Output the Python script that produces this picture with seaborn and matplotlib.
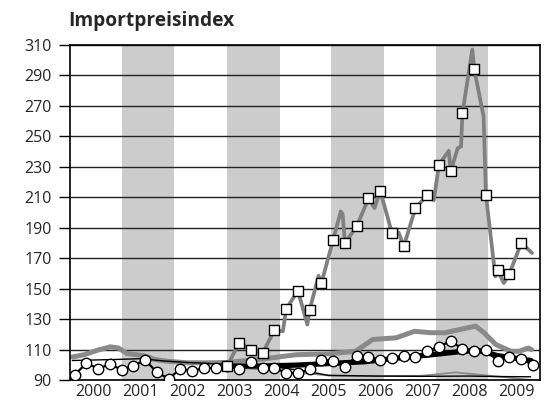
#!/usr/bin/env python3
# -*- coding: utf-8 -*-
"""
Importpreisindex, 2000-2009, Quartalswerte und Monatsverlauf.
"""
#%%
import matplotlib
matplotlib.use("Agg")
import matplotlib.pyplot as plt
import numpy as np
import pandas as pd
import seaborn as sns
#%%
sns.set_style("white")
plt.rcParams["font.family"] = ["Open Sans", "DejaVu Sans"]

#%% Daten
years = [2000, 2001, 2002, 2003, 2004, 2005, 2006, 2007, 2008, 2009]
y_ticks = [90, 110, 130, 150, 170, 190, 210, 230, 250, 270, 290, 310]
band_start = [2000.60, 2002.83, 2005.06, 2007.28]
band_end = [2001.72, 2003.96, 2006.19, 2008.40]

# Quartalspositionen
quarters = np.arange(40) * 0.25 + 1999.6

# schwarze Linie mit Kreisen
circle_vals = [93.5, 101.0, 97.5, 100.3, 96.8, 99.3, 103.0, 95.1, 90.8, 97.3,
               95.8, 98.0, 98.0, 99.0, 97.0, 101.7, 98.0, 98.0, 94.7, 94.3,
               97.0, 103.4, 102.5, 98.5, 106.0, 105.0, 103.4, 104.5, 105.6, 105.1,
               108.8, 112.0, 115.4, 110.6, 109.3, 110.0, 102.3, 105.0, 104.0, 99.7]

# graue Linie mit Quadraten (Quadrate ab Quartal 13)
square_vals = [99.5, 114.4, 110.0, 107.8, 122.7, 136.7, 148.6, 136.2, 153.7,
               182.1, 180.0, 190.9, 209.2, 214.3, 186.5, 177.7, 202.9, 211.4,
               231.5, 227.2, 265.2, 294.1, 211.4, 162.0, 159.8, 180.0]
energy_x = [2002.85, 2003.10, 2003.35, 2003.60, 2003.85, 2004.03, 2004.10, 2004.35,
            2004.55, 2004.60, 2004.79, 2004.85, 2005.10, 2005.26, 2005.30, 2005.35,
            2005.60, 2005.85, 2005.98, 2006.10, 2006.35, 2006.49, 2006.60, 2006.85,
            2007.10, 2007.24, 2007.35, 2007.56, 2007.60, 2007.75, 2007.82, 2007.85,
            2008.06, 2008.10, 2008.30, 2008.35, 2008.55, 2008.60, 2008.73, 2008.85,
            2009.10, 2009.33]
energy_y = [99.5, 114.4, 110.0, 107.8, 122.7, 122.0, 136.7, 148.6,
            126.4, 136.2, 158.5, 153.7, 182.1, 200.7, 199.0, 180.0,
            190.9, 209.2, 202.9, 214.3, 186.5, 187.0, 177.7, 202.9,
            211.4, 208.0, 231.5, 240.5, 227.2, 242.3, 243.3, 265.2,
            307.0, 294.1, 263.0, 211.4, 158.0, 162.0, 153.7, 159.8,
            180.0, 173.4]

# dicke graue Linie
gray_x = [1999.55, 1999.80, 2000.08, 2000.36, 2000.53, 2000.71, 2001.07, 2001.32,
          2001.57, 2001.99, 2002.55, 2002.84, 2003.60, 2004.31, 2005.02, 2005.58,
          2005.94, 2006.44, 2006.83, 2007.15, 2007.47, 2007.86, 2008.13, 2008.31,
          2008.56, 2008.88, 2009.06, 2009.25, 2009.32]
gray_y = [105.1, 106.6, 109.5, 111.8, 111.0, 107.4, 106.0, 103.4,
          102.3, 101.3, 101.3, 101.5, 103.8, 106.6, 107.2, 108.9,
          116.6, 117.7, 122.0, 121.1, 121.0, 123.6, 125.4, 121.0,
          113.3, 108.9, 108.9, 111.0, 110.0]

# dicke schwarze Linie
thick_x = [2002.85, 2003.63, 2004.35, 2005.06, 2005.77, 2006.48, 2007.19, 2007.89,
           2008.17, 2008.60, 2009.17, 2009.31]
thick_y = [99.0, 99.2, 99.8, 100.9, 102.0, 104.4, 106.6, 108.9,
           109.5, 106.0, 103.4, 102.8]

# duenne schwarze Linie
thin_x = [1999.55, 2000.50, 2001.00, 2001.50, 2002.00, 2002.50, 2003.00, 2003.50,
          2004.00, 2004.50, 2005.00, 2005.50, 2006.00, 2007.00, 2008.00, 2008.50,
          2009.30]
thin_y = [102.8, 103.5, 104.0, 102.5, 101.5, 100.8, 100.2, 99.5,
          98.0, 96.0, 93.0, 92.8, 92.6, 92.4, 92.6, 92.3,
          92.1]

# duenne graue Linie
thin_gray_x = [2002.85, 2003.50, 2004.30, 2005.00, 2006.00, 2007.00, 2007.70, 2008.20,
               2008.70, 2009.30]
thin_gray_y = [99.0, 97.0, 95.0, 93.0, 92.5, 92.8, 95.0, 93.5,
               92.0, 90.0]

#%%
fig = plt.figure(figsize=(5.44, 4.03), dpi=100, facecolor="white")
ax = fig.add_axes([70 / 544, 23 / 403, 470 / 544, 335 / 403])

for s, e in zip(band_start, band_end):
    ax.axvspan(s, e, color="#cccccc", lw=0, zorder=0)
for yt in y_ticks:
    ax.axhline(yt, color="#222222", lw=1.0, zorder=1)

sns.lineplot(x=gray_x, y=gray_y, color="#8a8a8a", lw=3.6, ax=ax, zorder=2)
sns.lineplot(x=thin_gray_x, y=thin_gray_y, color="#8a8a8a", lw=1.3, ax=ax, zorder=2)
sns.lineplot(x=thin_x, y=thin_y, color="black", lw=1.0, ax=ax, zorder=3)
sns.lineplot(x=thick_x, y=thick_y, color="black", lw=3.8, ax=ax, zorder=3)

circles = pd.DataFrame({"x": quarters, "y": circle_vals})
sns.lineplot(data=circles, x="x", y="y", color="black", lw=1.6, marker="o",
             markersize=7.5, markerfacecolor="white", markeredgecolor="black",
             markeredgewidth=1.0, ax=ax, zorder=4)

sns.lineplot(x=energy_x, y=energy_y, color="#808080", lw=2.7, ax=ax, zorder=5)
squares = pd.DataFrame({"x": quarters[13:39], "y": square_vals})
sns.scatterplot(data=squares, x="x", y="y", marker="s", s=62, color="white",
                edgecolor="black", linewidth=1.0, ax=ax, zorder=6)

ax.set_xlim(1999.5, 2009.5)
ax.set_ylim(90, 310)
ax.set_xticks(years)
ax.set_yticks(y_ticks)
ax.tick_params(axis="x", length=0, pad=3, labelsize=11.5)
ax.tick_params(axis="y", length=8, width=1, color="black", pad=5, labelsize=11.5, left=True)
ax.set_xlabel("")
ax.set_ylabel("")
for sp in ax.spines.values():
    sp.set_color("black")
    sp.set_linewidth(1.2)

fig.text(68 / 544, 1 - 21 / 403, "Importpreisindex", fontsize=13.8,
         fontweight="bold", ha="left", va="center")

fig.savefig("out.png", dpi=100)
